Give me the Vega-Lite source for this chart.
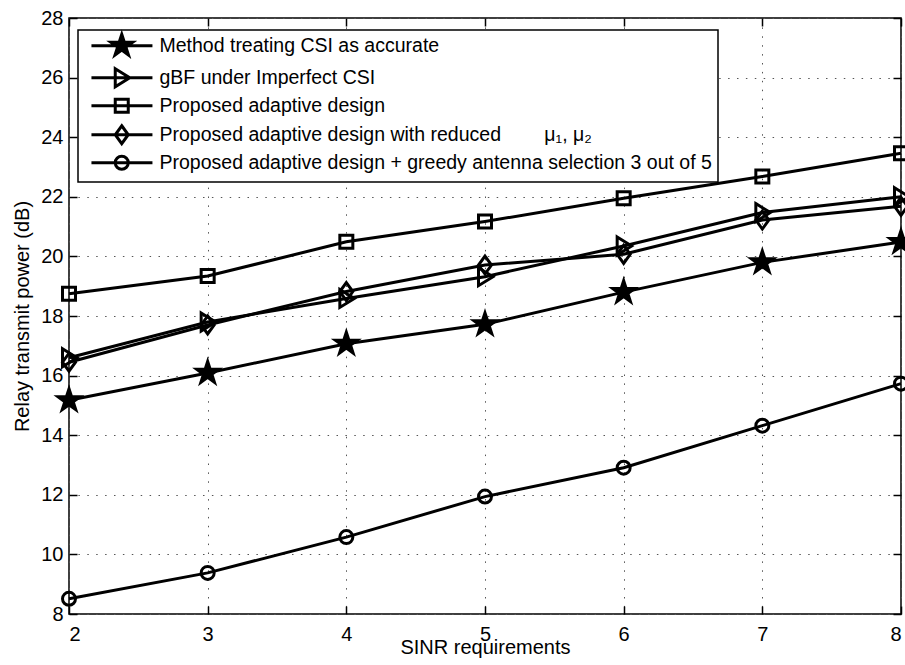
{
  "$schema": "https://vega.github.io/schema/vega-lite/v6.json",
  "width": 832,
  "height": 596,
  "autosize": {"type": "none"},
  "padding": {"left": 69, "top": 18, "right": 4, "bottom": 51},
  "background": "white",
  "config": {
    "view": {"stroke": "black", "strokeWidth": 1.5},
    "font": "Liberation Sans",
    "axis": {
      "labelFont": "Liberation Sans",
      "titleFont": "Liberation Sans",
      "labelFontSize": 20,
      "titleFontSize": 20,
      "labelColor": "black",
      "titleColor": "black",
      "titleFontWeight": "normal",
      "domain": false,
      "tickColor": "black",
      "tickWidth": 1.5,
      "tickSize": -8,
      "gridColor": "#555555",
      "gridWidth": 1,
      "gridDash": [1.5, 7.4],
      "gridOpacity": 1
    },
    "legend": {
      "labelFont": "Liberation Sans",
      "labelFontSize": 19.5,
      "labelColor": "black",
      "labelLimit": 900
    }
  },
  "datasets": {
    "curves": [
      {"series": "Method treating CSI as accurate", "sinr": 2, "power": 15.17},
      {"series": "Method treating CSI as accurate", "sinr": 3, "power": 16.09},
      {"series": "Method treating CSI as accurate", "sinr": 4, "power": 17.07},
      {"series": "Method treating CSI as accurate", "sinr": 5, "power": 17.72},
      {"series": "Method treating CSI as accurate", "sinr": 6, "power": 18.8},
      {"series": "Method treating CSI as accurate", "sinr": 7, "power": 19.8},
      {"series": "Method treating CSI as accurate", "sinr": 8, "power": 20.48},
      {"series": "gBF under Imperfect CSI", "sinr": 2, "power": 16.6},
      {"series": "gBF under Imperfect CSI", "sinr": 3, "power": 17.8},
      {"series": "gBF under Imperfect CSI", "sinr": 4, "power": 18.59},
      {"series": "gBF under Imperfect CSI", "sinr": 5, "power": 19.32},
      {"series": "gBF under Imperfect CSI", "sinr": 6, "power": 20.35},
      {"series": "gBF under Imperfect CSI", "sinr": 7, "power": 21.47},
      {"series": "gBF under Imperfect CSI", "sinr": 8, "power": 22.0},
      {"series": "Proposed adaptive design", "sinr": 2, "power": 18.75},
      {"series": "Proposed adaptive design", "sinr": 3, "power": 19.34},
      {"series": "Proposed adaptive design", "sinr": 4, "power": 20.49},
      {"series": "Proposed adaptive design", "sinr": 5, "power": 21.17},
      {"series": "Proposed adaptive design", "sinr": 6, "power": 21.95},
      {"series": "Proposed adaptive design", "sinr": 7, "power": 22.68},
      {"series": "Proposed adaptive design", "sinr": 8, "power": 23.46},
      {"series": "Proposed adaptive design with reduced\u00a0\u00a0\u00a0\u00a0\u00a0\u00a0\u00a0\u00a0μ₁, μ₂", "sinr": 2, "power": 16.45},
      {"series": "Proposed adaptive design with reduced\u00a0\u00a0\u00a0\u00a0\u00a0\u00a0\u00a0\u00a0μ₁, μ₂", "sinr": 3, "power": 17.7},
      {"series": "Proposed adaptive design with reduced\u00a0\u00a0\u00a0\u00a0\u00a0\u00a0\u00a0\u00a0μ₁, μ₂", "sinr": 4, "power": 18.82},
      {"series": "Proposed adaptive design with reduced\u00a0\u00a0\u00a0\u00a0\u00a0\u00a0\u00a0\u00a0μ₁, μ₂", "sinr": 5, "power": 19.71},
      {"series": "Proposed adaptive design with reduced\u00a0\u00a0\u00a0\u00a0\u00a0\u00a0\u00a0\u00a0μ₁, μ₂", "sinr": 6, "power": 20.07},
      {"series": "Proposed adaptive design with reduced\u00a0\u00a0\u00a0\u00a0\u00a0\u00a0\u00a0\u00a0μ₁, μ₂", "sinr": 7, "power": 21.22},
      {"series": "Proposed adaptive design with reduced\u00a0\u00a0\u00a0\u00a0\u00a0\u00a0\u00a0\u00a0μ₁, μ₂", "sinr": 8, "power": 21.68},
      {"series": "Proposed adaptive design + greedy antenna selection 3 out of 5", "sinr": 2, "power": 8.51},
      {"series": "Proposed adaptive design + greedy antenna selection 3 out of 5", "sinr": 3, "power": 9.38},
      {"series": "Proposed adaptive design + greedy antenna selection 3 out of 5", "sinr": 4, "power": 10.58},
      {"series": "Proposed adaptive design + greedy antenna selection 3 out of 5", "sinr": 5, "power": 11.94},
      {"series": "Proposed adaptive design + greedy antenna selection 3 out of 5", "sinr": 6, "power": 12.91},
      {"series": "Proposed adaptive design + greedy antenna selection 3 out of 5", "sinr": 7, "power": 14.32},
      {"series": "Proposed adaptive design + greedy antenna selection 3 out of 5", "sinr": 8, "power": 15.73}
    ]
  },
  "data": {"name": "curves"},
  "resolve": {
    "axis": {"x": "independent", "y": "independent"},
    "scale": {"shape": "independent"}
  },
  "layer": [
    {
      "mark": {"type": "line", "color": "black", "strokeWidth": 3, "clip": false},
      "encoding": {
        "x": {
          "field": "sinr", "type": "quantitative",
          "scale": {"domain": [2, 8], "nice": false, "zero": false},
          "axis": {
            "orient": "bottom", "values": [2, 3, 4, 5, 6, 7, 8], "grid": true,
            "title": "SINR requirements", "labelPadding": 18,
            "titleBaseline": "alphabetic", "titleY": 39.5, "titleAnchor": "middle"
          }
        },
        "y": {
          "field": "power", "type": "quantitative",
          "scale": {"domain": [8, 28], "nice": false, "zero": false},
          "axis": {
            "orient": "left", "values": [8, 10, 12, 14, 16, 18, 20, 22, 24, 26, 28], "grid": true,
            "title": "Relay transmit power (dB)", "labelPadding": 14,
            "titleBaseline": "alphabetic", "titleX": -41, "titleAnchor": "middle"
          }
        },
        "detail": {"field": "series"}
      }
    },
    {
      "mark": {"type": "point", "size": 100, "strokeWidth": 3, "stroke": "black", "opacity": 1, "clip": false},
      "encoding": {
        "x": {
          "field": "sinr", "type": "quantitative",
          "axis": {"orient": "top", "values": [2, 3, 4, 5, 6, 7, 8], "grid": false, "labels": false, "title": null}
        },
        "y": {
          "field": "power", "type": "quantitative",
          "axis": {"orient": "right", "values": [8, 10, 12, 14, 16, 18, 20, 22, 24, 26, 28], "grid": false, "labels": false, "title": null}
        },
        "fill": {
          "field": "series", "type": "nominal", "legend": null,
          "scale": {
            "domain": [
              "Method treating CSI as accurate",
              "gBF under Imperfect CSI",
              "Proposed adaptive design",
              "Proposed adaptive design with reduced\u00a0\u00a0\u00a0\u00a0\u00a0\u00a0\u00a0\u00a0μ₁, μ₂",
              "Proposed adaptive design + greedy antenna selection 3 out of 5"
            ],
            "range": ["black", "transparent", "transparent", "transparent", "transparent"]
          }
        },
        "shape": {
          "field": "series", "type": "nominal", "legend": null,
          "scale": {
            "domain": [
              "Method treating CSI as accurate",
              "gBF under Imperfect CSI",
              "Proposed adaptive design",
              "Proposed adaptive design with reduced\u00a0\u00a0\u00a0\u00a0\u00a0\u00a0\u00a0\u00a0μ₁, μ₂",
              "Proposed adaptive design + greedy antenna selection 3 out of 5"
            ],
            "range": [
              "M0,-2.3L0.517,-0.712L2.187,-0.711L0.837,0.272L1.352,1.861L0,0.88L-1.352,1.861L-0.837,0.272L-2.187,-0.711L-0.517,-0.712Z",
              "M-1.3,-1.8L1.6,0L-1.3,1.8Z",
              "M-1.3,-1.3H1.3V1.3H-1.3Z",
              "M0,-1.8L1.3,0L0,1.8L-1.3,0Z",
              "M1.3,0A1.3,1.3,0,1,1,-1.3,0A1.3,1.3,0,1,1,1.3,0Z"
            ]
          }
        }
      }
    },
    {
      "transform": [{"filter": "datum.power > 1000"}],
      "mark": {"type": "point", "size": 100, "strokeWidth": 3, "stroke": "black", "opacity": 1, "clip": false},
      "encoding": {
        "x": {"field": "sinr", "type": "quantitative", "axis": null},
        "y": {"field": "power", "type": "quantitative", "axis": null},
        "shape": {
          "field": "series", "type": "nominal",
          "scale": {
            "domain": [
              "Method treating CSI as accurate",
              "gBF under Imperfect CSI",
              "Proposed adaptive design",
              "Proposed adaptive design with reduced\u00a0\u00a0\u00a0\u00a0\u00a0\u00a0\u00a0\u00a0μ₁, μ₂",
              "Proposed adaptive design + greedy antenna selection 3 out of 5"
            ],
            "range": [
              "M-0.46,0H11.74M5.6,-2.3L6.117,-0.712L7.787,-0.711L6.437,0.272L6.952,1.861L5.6,0.88L4.248,1.861L4.763,0.272L3.413,-0.711L5.083,-0.712ZM5.6,-1.7L5.982,-0.526L7.217,-0.525L6.219,0.201L6.599,1.375L5.6,0.65L4.601,1.375L4.981,0.201L3.983,-0.525L5.218,-0.526ZM5.6,-1.1L5.847,-0.34L6.646,-0.34L6.0,0.13L6.247,0.89L5.6,0.421L4.953,0.89L5.2,0.13L4.554,-0.34L5.353,-0.34ZM5.6,-0.5L5.712,-0.155L6.076,-0.155L5.782,0.059L5.894,0.405L5.6,0.191L5.306,0.405L5.418,0.059L5.124,-0.155L5.488,-0.155Z",
              "M-0.46,0H11.74M4.3,-1.8L7.2,0L4.3,1.8Z",
              "M-0.46,0H11.74M4.3,-1.3H6.9V1.3H4.3Z",
              "M-0.46,0H11.74M5.6,-1.8L6.9,0L5.6,1.8L4.3,0Z",
              "M-0.46,0H11.74M6.9,0A1.3,1.3,0,1,1,4.3,0A1.3,1.3,0,1,1,6.9,0Z"
            ]
          },
          "legend": {
            "title": null,
            "orient": "none",
            "legendX": 9,
            "legendY": 12,
            "direction": "vertical",
            "padding": 6,
            "strokeColor": "black",
            "fillColor": "white",
            "symbolSize": 100,
            "symbolStrokeWidth": 3,
            "symbolStrokeColor": "black",
            "labelOffset": 56,
            "rowPadding": 0,
            "gridAlign": "each",
            "encoding": {
              "legend": {"strokeWidth": {"value": 1.5}},
              "symbols": {
                "fill": {"value": "transparent"},
                "stroke": {"value": "black"},
                "strokeWidth": {"value": 3},
                "size": {"value": 100},
                "opacity": {"value": 1}
              }
            }
          }
        }
      }
    }
  ]
}
